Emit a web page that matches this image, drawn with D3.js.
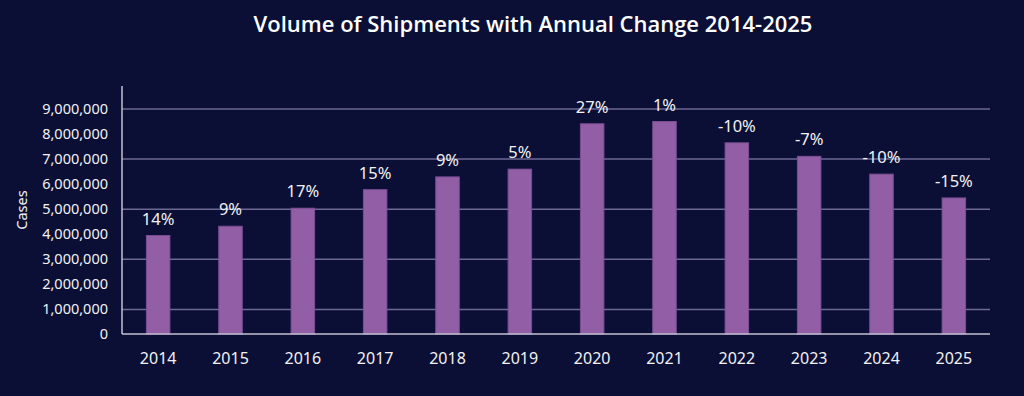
<!DOCTYPE html>
<html>
<head>
<meta charset="utf-8">
<script src="https://cdn.jsdelivr.net/npm/d3@7"></script>
<style>
  html, body { margin: 0; padding: 0; background: #0b0f35; }
  svg { display: block; }
</style>
</head>
<body>
<div id="chart"></div>
<script>
// chart data
var years = ["2014","2015","2016","2017","2018","2019","2020","2021","2022","2023","2024","2025"];
var cases = [3930000, 4300000, 5020000, 5760000, 6270000, 6580000, 8390000, 8480000, 7630000, 7090000, 6380000, 5430000];
var changes = ["14%","9%","17%","15%","9%","5%","27%","1%","-10%","-7%","-10%","-15%"];
var yTicks = [0,1000000,2000000,3000000,4000000,5000000,6000000,7000000,8000000,9000000];
var gridTicks = [1000000,3000000,5000000,7000000,9000000];

var width = 1024, height = 396;
var margin = {t: 86, r: 34, b: 62, l: 122};

var svg = d3.select('#chart')
    .append('svg')
    .attr('width', width)
    .attr('height', height);

svg.append('rect')
    .attr('width', width)
    .attr('height', height)
    .attr('fill', '#0b0f35');

var x = d3.scaleBand()
    .domain(years)
    .range([margin.l, width - margin.r])
    .paddingInner(0.675)
    .paddingOuter(0.3375);

var y = d3.scaleLinear()
    .domain([0, 9000000])
    .range([334, 108.5]);

//title
svg.append('text')
    .attr('x', 533)
    .attr('y', 32)
    .attr('fill', '#ffffff')
    .attr('font-family', 'Open Sans')
    .attr('font-weight', 600)
    .attr('font-size', '22px')
    .style('text-anchor', 'middle')
    .text('Volume of Shipments with Annual Change 2014-2025');

//gridlines
svg.selectAll('.grid')
    .data(gridTicks)
    .enter()
    .append('line')
    .attr('class', 'grid')
    .attr('x1', margin.l)
    .attr('x2', width - margin.r)
    .attr('y1', function(d){ return y(d) + 0.5; })
    .attr('y2', function(d){ return y(d) + 0.5; })
    .attr('stroke', '#6d6993')
    .attr('stroke-width', 1.5);

//y axis
var yAxis = svg.append('g')
    .attr('transform', 'translate(' + margin.l + ',0)')
    .call(d3.axisLeft(y)
        .tickValues(yTicks)
        .tickSize(0)
        .tickPadding(14)
        .tickFormat(d3.format(',')));

yAxis.select('.domain')
    .attr('d', 'M0,' + margin.t + 'V' + y(0))
    .attr('stroke', '#c4c0d4')
    .attr('stroke-width', 1.5);

yAxis.selectAll('text')
    .attr('fill', '#f2f2f2')
    .attr('font-family', 'Noto Sans')
    .attr('font-size', '14.5px');

//bars
svg.selectAll('.bar')
    .data(cases)
    .enter()
    .append('rect')
    .attr('class', 'bar')
    .attr('x', function(d, i){ return x(years[i]); })
    .attr('y', function(d){ return y(d); })
    .attr('width', x.bandwidth())
    .attr('height', function(d){ return y(0) - y(d); })
    .attr('fill', '#925fa7')
    .attr('stroke', '#7b4e93')
    .attr('stroke-width', 1);

//x axis
var xAxis = svg.append('g')
    .attr('transform', 'translate(0,' + y(0) + ')')
    .call(d3.axisBottom(x).tickSize(0).tickPadding(19));

xAxis.select('.domain')
    .attr('d', 'M' + margin.l + ',0H' + (width - margin.r))
    .attr('stroke', '#c4c0d4')
    .attr('stroke-width', 1.5);

xAxis.selectAll('text')
    .attr('fill', '#f2f2f2')
    .attr('font-family', 'Noto Sans')
    .attr('font-size', '16px');

//change labels
svg.selectAll('.pct')
    .data(cases)
    .enter()
    .append('text')
    .attr('class', 'pct')
    .attr('x', function(d, i){ return x(years[i]) + x.bandwidth() / 2; })
    .attr('y', function(d){ return y(d) - 11; })
    .attr('fill', '#f2f2f2')
    .attr('font-family', 'Noto Sans')
    .attr('font-size', '16.5px')
    .style('text-anchor', 'middle')
    .text(function(d, i){ return changes[i]; });

//axis title
svg.append('text')
    .attr('transform', 'translate(27,210) rotate(-90)')
    .attr('fill', '#f2f2f2')
    .attr('font-family', 'Noto Sans')
    .attr('font-size', '14.5px')
    .style('text-anchor', 'middle')
    .text('Cases');
</script>
</body>
</html>
